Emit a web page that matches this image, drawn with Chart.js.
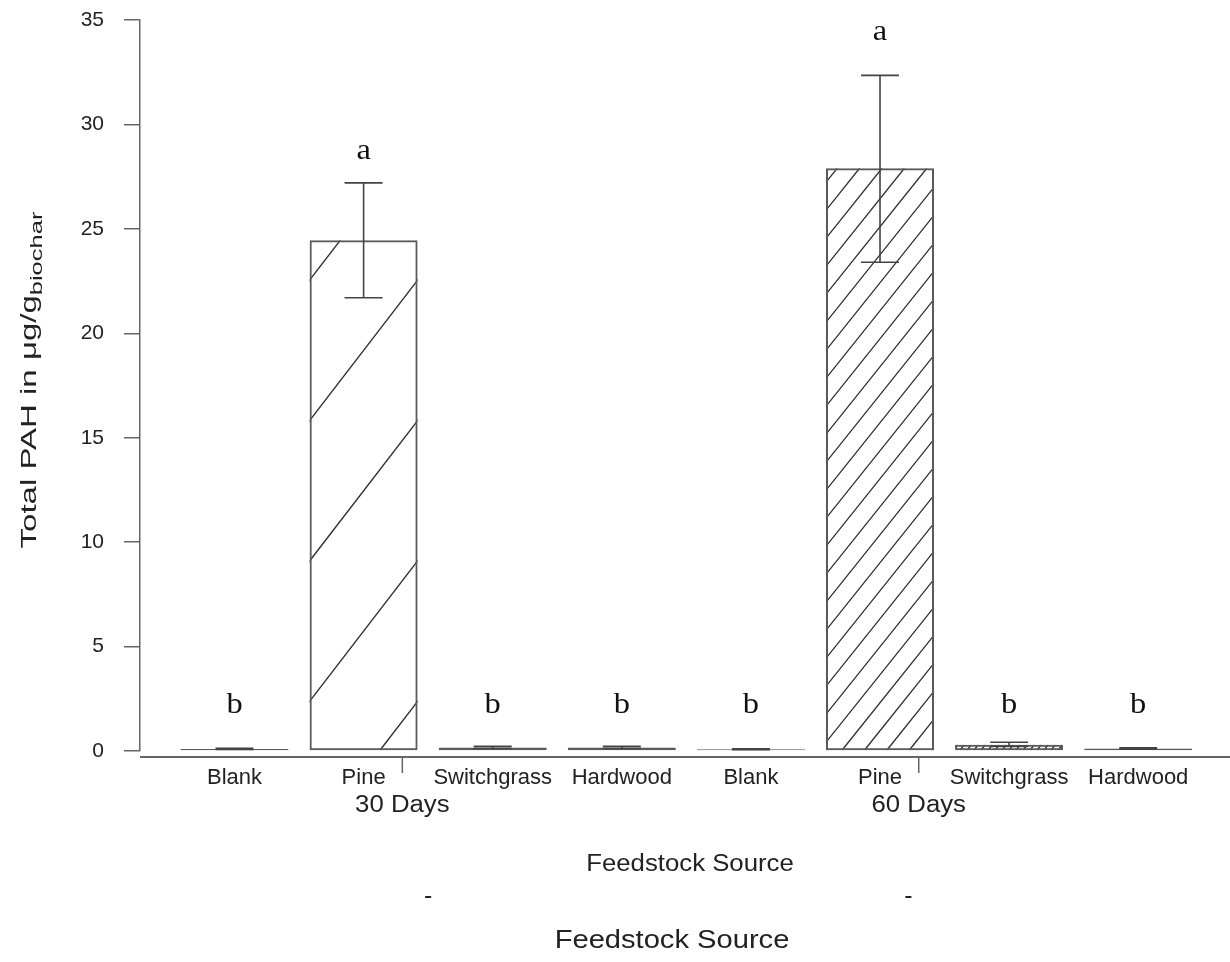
<!DOCTYPE html>
<html><head><meta charset="utf-8">
<script src="https://cdn.jsdelivr.net/npm/chart.js@4.4.1/dist/chart.umd.min.js"></script>
<style>html,body{margin:0;padding:0;background:#fff;}#wrap{width:1230px;height:962px;}</style>
</head><body><div id="wrap"><canvas id="c" width="1230" height="962"></canvas></div>
<script>
// ---- data ----
const categories = ['Blank','Pine','Switchgrass','Hardwood','Blank','Pine','Switchgrass','Hardwood'];
const groups = ['30 Days','60 Days'];
const means   = [0.10, 24.45, 0.17, 0.17, 0.08, 27.9, 0.30, 0.12];
const errLow  = [0.07, 21.70, 0.12, 0.12, 0.06, 23.40, 0.22, 0.09];
const errHigh = [0.13, 27.20, 0.22, 0.22, 0.10, 32.35, 0.42, 0.15];
const letters = ['b','a','b','b','b','a','b','b'];
const letterAt = [2.2, 28.7, 2.2, 2.2, 2.2, 34.4, 2.2, 2.2];
const yTicks = [0,5,10,15,20,25,30,35];
const xTitle = 'Feedstock Source';

// hatch styles (style, not data)
const hatchStyle = [null,{dx:108,k:1.3,anchor:380},null,null,null,{dx:22.4,k:1.25,anchor:842},{dx:7,k:1.3,anchor:960},null];

const AX = '#666';
const SANS = '"Liberation Sans", Arial, sans-serif';
function stretchText(ctx, txt, x, y, font, sx){
  ctx.save(); ctx.translate(x, y); ctx.scale(sx, 1); ctx.font = font; ctx.fillText(txt, 0, 0); ctx.restore();
}
const plugin = {
  id:'extras',
  beforeDatasetsDraw(chart){
    const ctx = chart.ctx;
    const meta = chart.getDatasetMeta(0);
    meta.data.forEach((bar,i)=>{
      const h = hatchStyle[i]; if(!h) return;
      const l = bar.x - bar.width/2, r = bar.x + bar.width/2, top = bar.y, bot = bar.base;
      ctx.save();
      ctx.beginPath(); ctx.rect(l, top, r-l, bot-top); ctx.clip();
      ctx.strokeStyle = '#333'; ctx.lineWidth = 1.4;
      const H = bot - top;
      const span = H / h.k;
      let start = h.anchor - Math.ceil((h.anchor - (l - span))/h.dx)*h.dx;
      ctx.beginPath();
      for(let x0 = start; x0 <= r + h.dx; x0 += h.dx){
        ctx.moveTo(x0, bot);
        ctx.lineTo(x0 + span, top);
      }
      ctx.stroke();
      ctx.restore();
    });
  },
  afterDatasetsDraw(chart){
    const ctx = chart.ctx;
    const xs = chart.scales.x, ys = chart.scales.y;
    const meta = chart.getDatasetMeta(0);
    // error bars
    ctx.save();
    ctx.strokeStyle = '#444'; ctx.lineWidth = 1.6;
    meta.data.forEach((bar,i)=>{
      const x = bar.x, y1 = ys.getPixelForValue(errLow[i]), y2 = ys.getPixelForValue(errHigh[i]);
      ctx.beginPath();
      ctx.moveTo(x, y1); ctx.lineTo(x, y2);
      ctx.moveTo(x-19, y1); ctx.lineTo(x+19, y1);
      ctx.moveTo(x-19, y2); ctx.lineTo(x+19, y2);
      ctx.stroke();
    });
    ctx.restore();
    // letters
    ctx.save();
    ctx.fillStyle = '#111';
    ctx.textAlign = 'center'; ctx.textBaseline = 'middle';
    meta.data.forEach((bar,i)=>{ stretchText(ctx, letters[i], bar.x, ys.getPixelForValue(letterAt[i]), '29px "Liberation Serif", "Times New Roman", serif', 1.12); });
    ctx.restore();
    // x axis line
    const y0 = ys.getPixelForValue(0) + 6;
    ctx.save();
    ctx.strokeStyle = AX; ctx.lineWidth = 2;
    ctx.beginPath(); ctx.moveTo(chart.chartArea.left, y0); ctx.lineTo(chart.width, y0); ctx.stroke();
    // group ticks and labels
    ctx.lineWidth = 1.5;
    ctx.fillStyle = '#222';
    ctx.textAlign = 'center'; ctx.textBaseline = 'middle';
    groups.forEach((g,gi)=>{
      const gx = xs.getPixelForValue(gi*4 + 1.3);
      ctx.beginPath(); ctx.moveTo(gx, y0); ctx.lineTo(gx, y0+16); ctx.stroke();
      stretchText(ctx, g, gx, y0 + 49, '23px ' + SANS, 1.12);
      const dx = xs.getPixelForValue(gi*4 + (gi===0?1.5:1.22));
      ctx.fillRect(dx-3, 896, 6, 2);
    });
    stretchText(ctx, xTitle, 690, 865, '23px ' + SANS, 1.12);
    stretchText(ctx, xTitle, 672, 941, '26px ' + SANS, 1.12);
    ctx.restore();
    // y title with subscript (rotated)
    ctx.save();
    const cx = 28, cy = 380;
    ctx.translate(cx, cy); ctx.rotate(-Math.PI/2); ctx.scale(1.5, 1);
    const main = 'Total PAH in \u03bcg/g', sub = 'biochar';
    const fMain = '22px ' + SANS, fSub = '17px ' + SANS;
    ctx.font = fMain; const w1 = ctx.measureText(main).width;
    ctx.font = fSub; const w2 = ctx.measureText(sub).width;
    let sx = -(w1+w2)/2;
    ctx.fillStyle = '#222'; ctx.textBaseline = 'alphabetic'; ctx.textAlign = 'left';
    ctx.font = fMain; ctx.fillText(main, sx, 8);
    ctx.font = fSub; ctx.fillText(sub, sx + w1, 14);
    ctx.restore();
  }
};

const xMin = -0.732, xMax = 7.711;
new Chart(document.getElementById('c'), {
  type:'bar',
  data:{ datasets:[{
    data: means.map((v,i)=>({x:i, y:v})),
    backgroundColor:'rgba(255,255,255,0)',
    borderColor:'#5a5a5a', borderWidth:2, borderSkipped:false,
    inflateAmount:0,
    barThickness:108
  }]},
  options:{
    responsive:false, animation:false, devicePixelRatio:1,
    layout:{padding:{top:20,left:0,right:0,bottom:0}},
    plugins:{legend:{display:false}, tooltip:{enabled:false}},
    scales:{
      x:{ type:'linear', min:xMin, max:xMax, offset:false,
        grid:{display:false, drawTicks:false}, border:{display:false},
        afterFit(s){ s.height = 211; s.paddingLeft = 0; s.paddingRight = 0; },
        afterBuildTicks(s){ s.ticks = categories.map((c,i)=>({value:i})); },
        ticks:{ autoSkip:false, maxRotation:0, padding:14, color:'#222',
          font:{family:SANS, size:22},
          callback:(v)=> Number.isInteger(v) ? categories[v] : '' }
      },
      y:{ min:0, max:35,
        afterFit(s){ s.width = 140; s.paddingTop = 0; s.paddingBottom = 0; },
        afterBuildTicks(s){ s.ticks = yTicks.map(v=>({value:v})); },
        grid:{ drawOnChartArea:false, drawTicks:true, tickLength:16, color:AX, lineWidth:1.5 },
        border:{ display:true, color:AX, width:1.5 },
        ticks:{ padding:20, color:'#222', font:{family:SANS, size:21} }
      }
    }
  },
  plugins:[plugin]
});
</script></body></html>
